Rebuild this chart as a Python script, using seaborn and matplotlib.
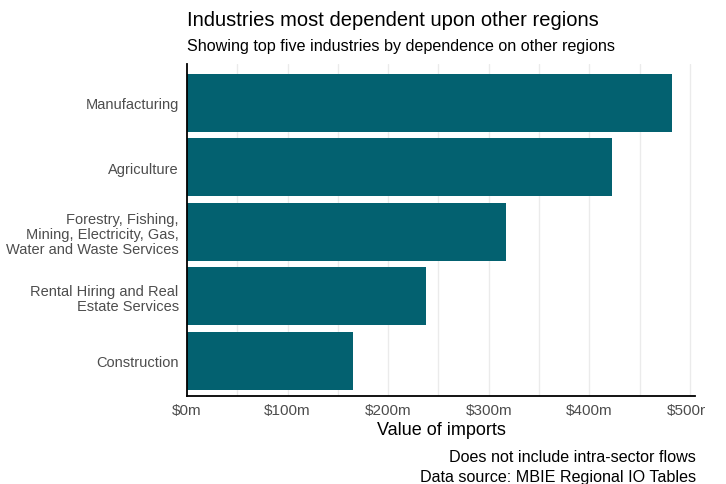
import matplotlib
matplotlib.use("Agg")
import matplotlib.pyplot as plt
from matplotlib.transforms import Bbox
import seaborn as sns
import pandas as pd

industries = [
    "Manufacturing",
    "Agriculture",
    "Forestry, Fishing,\nMining, Electricity, Gas,\nWater and Waste Services",
    "Rental Hiring and Real\nEstate Services",
    "Construction",
]
imports_m = [482, 422, 317, 238, 165]
x_ticks = [0, 100, 200, 300, 400, 500]
x_tick_labels = ["$0m", "$100m", "$200m", "$300m", "$400m", "$500m"]

df = pd.DataFrame({"industry": industries, "imports": imports_m})

sns.set_theme(style="white")
plt.rcParams["font.family"] = ["Liberation Sans", "DejaVu Sans"]
plt.rcParams["text.color"] = "black"

fig = plt.figure(figsize=(7.26, 4.85), dpi=100)
ax = fig.add_axes([187 / 726, 1 - 397 / 485, (695 - 187) / 726, (397 - 65) / 485])

# light vertical grid every 50m
for g in range(50, 501, 50):
    ax.axvline(g, color="#ebebeb", lw=1, zorder=0)

sns.barplot(data=df, x="imports", y="industry", orient="h", color="#036170",
            width=0.9, saturation=1, linewidth=0, ax=ax, zorder=2)

ax.set_xlim(0, 505)
ax.set_ylim(4.55, -0.6)
ax.set_xticks(x_ticks)
ax.set_xticklabels(x_tick_labels, fontsize=11, color="#4d4d4d")
ax.tick_params(axis="y", labelsize=10.5, labelcolor="#4d4d4d", length=0, pad=6)
ax.tick_params(axis="x", length=0, pad=5)
for lab in ax.get_yticklabels():
    lab.set_multialignment("right")
    lab.set_linespacing(1.1)

for s in ["top", "right"]:
    ax.spines[s].set_visible(False)
for s in ["left", "bottom"]:
    ax.spines[s].set_color("black")
    ax.spines[s].set_linewidth(1.3)

ax.set_ylabel("")
ax.set_xlabel("Value of imports", fontsize=13, color="black", labelpad=3)

# clip the last tick label like the reference
clip = Bbox.from_extents(0, 0, 705, 485)
for lab in ax.get_xticklabels():
    lab.set_clip_on(True)
    lab.set_clip_box(clip)

fig.text(187 / 726, 1 - 20 / 485, "Industries most dependent upon other regions",
         fontsize=14.5, ha="left", va="center", color="black")
fig.text(187 / 726, 1 - 46 / 485, "Showing top five industries by dependence on other regions",
         fontsize=11.6, ha="left", va="center", color="black")
fig.text(696 / 726, 1 - 458 / 485, "Does not include intra-sector flows",
         fontsize=11.6, ha="right", va="center", color="black")
fig.text(696 / 726, 1 - 478 / 485, "Data source: MBIE Regional IO Tables",
         fontsize=11.6, ha="right", va="center", color="black")

fig.savefig("out.png", dpi=100)
